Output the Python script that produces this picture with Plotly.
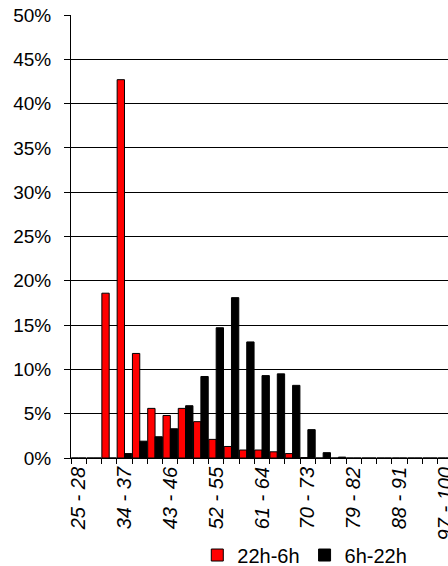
import plotly.graph_objects as go

# class bins (3 units each)
bins = [f"{lo} - {lo + 3}" for lo in range(25, 100, 3)]
labelled = bins[::3]

night = [0, 0, 18.6, 42.7, 11.8, 5.6, 4.8, 5.6, 4.1, 2.1, 1.3, 0.9, 0.9,
         0.7, 0.5, 0.05, 0, 0, 0, 0, 0, 0, 0, 0, 0]
day = [0, 0, 0, 0.5, 1.9, 2.4, 3.3, 5.9, 9.2, 14.7, 18.1, 13.1, 9.3,
       9.5, 8.2, 3.2, 0.6, 0.1, 0, 0, 0, 0, 0, 0, 0]

FONT = "Liberation Sans, Arial, sans-serif"

fig = go.Figure()
fig.add_trace(go.Bar(x=bins, y=night, name="22h-6h",
                     marker=dict(color="#ff0000", line=dict(color="#000000", width=1))))
fig.add_trace(go.Bar(x=bins, y=day, name="6h-22h",
                     marker=dict(color="#000000", line=dict(color="#000000", width=1))))

fig.update_layout(
    width=448,
    height=566,
    barmode="group",
    bargap=0.04,
    bargroupgap=0,
    plot_bgcolor="white",
    paper_bgcolor="white",
    font=dict(family=FONT, size=18, color="#000000"),
    margin=dict(l=71, r=0, t=15, b=108, autoexpand=False),
    legend=dict(orientation="h", x=0.335, xanchor="left", y=-0.175, yanchor="top",
                font=dict(size=20), itemwidth=30, tracegroupgap=0),
)
fig.update_xaxes(
    type="category",
    automargin=False,
    range=[-0.5, 24.17],
    tickvals=bins,
    ticktext=[b if b in labelled else "" for b in bins],
    tickson="boundaries",
    ticks="outside",
    ticklen=5,
    tickcolor="#000000",
    tickangle=-90,
    tickfont=dict(size=20, style="italic"),
    showline=True,
    linecolor="#000000",
    linewidth=1,
    showgrid=False,
)
fig.update_yaxes(
    automargin=False,
    range=[0, 50],
    dtick=5,
    ticksuffix="%",
    ticks="outside",
    ticklen=6,
    tickcolor="#000000",
    tickfont=dict(size=19),
    ticklabelstandoff=9,
    showline=True,
    linecolor="#000000",
    linewidth=1,
    showgrid=True,
    gridcolor="#000000",
    gridwidth=1,
    zeroline=False,
)

# drop the default page margin so the figure fills the window
fig.write_html(
    "out.html",
    config={"displayModeBar": False},
    post_script="document.body.style.margin = '0';",
)
